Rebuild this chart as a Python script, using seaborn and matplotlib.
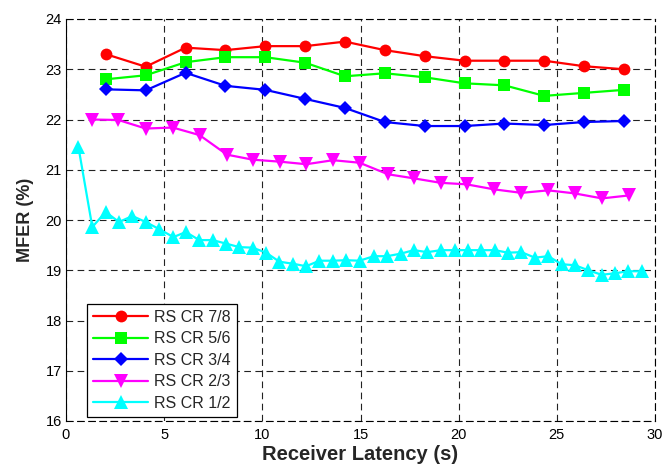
import matplotlib
matplotlib.use("Agg")
import matplotlib.pyplot as plt
import seaborn as sns
import pandas as pd

# ---- data ----
x_a = [2.03, 4.06, 6.09, 8.12, 10.15, 12.18, 14.21, 16.24, 18.27, 20.3, 22.33, 24.36, 26.39, 28.42]
cr78 = [23.30, 23.05, 23.43, 23.38, 23.46, 23.46, 23.55, 23.38, 23.26, 23.17, 23.17, 23.17, 23.06, 23.00]
cr56 = [22.80, 22.88, 23.14, 23.24, 23.24, 23.13, 22.86, 22.92, 22.84, 22.72, 22.68, 22.47, 22.53, 22.59]
cr34 = [22.60, 22.58, 22.93, 22.67, 22.59, 22.41, 22.23, 21.95, 21.87, 21.87, 21.92, 21.89, 21.95, 21.97]

x_b = [1.31, 2.67, 4.06, 5.44, 6.80, 8.20, 9.52, 10.92, 12.24, 13.60, 14.95, 16.40, 17.70, 19.08,
       20.40, 21.80, 23.20, 24.56, 25.90, 27.30, 28.70]
cr23 = [22.00, 21.99, 21.82, 21.84, 21.69, 21.30, 21.20, 21.16, 21.11, 21.19, 21.14, 20.91, 20.83, 20.74,
        20.71, 20.61, 20.54, 20.59, 20.53, 20.43, 20.49]

x_c = [0.63, 1.34, 2.02, 2.70, 3.38, 4.06, 4.74, 5.47, 6.10, 6.79, 7.47, 8.15, 8.83, 9.50, 10.19,
       10.87, 11.55, 12.23, 12.91, 13.59, 14.27, 14.95, 15.68, 16.36, 17.04, 17.72, 18.40, 19.10,
       19.80, 20.47, 21.15, 21.84, 22.50, 23.20, 23.88, 24.56, 25.24, 25.92, 26.60, 27.28, 27.96,
       28.64, 29.32]
cr12 = [21.46, 19.86, 20.16, 19.96, 20.08, 19.96, 19.82, 19.66, 19.76, 19.60, 19.60, 19.53, 19.46,
        19.45, 19.35, 19.17, 19.13, 19.08, 19.19, 19.19, 19.20, 19.19, 19.28, 19.28, 19.33, 19.40,
        19.36, 19.40, 19.40, 19.40, 19.40, 19.40, 19.35, 19.36, 19.25, 19.28, 19.12, 19.10, 19.00,
        18.91, 18.94, 18.98, 18.98]

labels = ["RS CR 7/8", "RS CR 5/6", "RS CR 3/4", "RS CR 2/3", "RS CR 1/2"]
xticks = [0, 5, 10, 15, 20, 25, 30]
yticks = [16, 17, 18, 19, 20, 21, 22, 23, 24]

series = [
    (x_a, cr78, labels[0], "#ff0000", "o", 8.5),
    (x_a, cr56, labels[1], "#00ff00", "s", 9),
    (x_a, cr34, labels[2], "#0000ff", "D", 7.5),
    (x_b, cr23, labels[3], "#ff00ff", "v", 10),
    (x_c, cr12, labels[4], "#00ffff", "^", 10),
]

sns.set_style("white")
plt.rcParams["font.family"] = ["Liberation Sans", "DejaVu Sans"]

fig = plt.figure(figsize=(6.65, 4.66), dpi=100)
ax = fig.add_axes([66 / 665, 1 - 421 / 466, 589 / 665, 402 / 466])

for xs, ys, lab, col, mk, ms in series:
    df = pd.DataFrame({"x": xs, "y": ys})
    sns.lineplot(data=df, x="x", y="y", ax=ax, color=col, marker=mk, markersize=ms,
                 markeredgecolor=col, markeredgewidth=0, linewidth=1.6, label=lab,
                 sort=False, estimator=None)

ax.set_xlim(0, 30)
ax.set_ylim(16, 24)
ax.set_xticks(xticks)
ax.set_yticks(yticks)
ax.tick_params(direction="in", length=4, labelsize=10.5, colors="black", width=0.8)
ax.tick_params(axis="x", pad=5)
ax.tick_params(axis="y", pad=3)
ax.grid(True, color="#222222", linestyle=(0, (6, 4)), linewidth=0.8)
ax.set_axisbelow(True)
for side in ["top", "right", "bottom"]:
    ax.spines[side].set_linestyle((0, (6, 4)))
for sp in ax.spines.values():
    sp.set_color("black")
    sp.set_linewidth(0.8)

ax.set_xlabel("Receiver Latency (s)", fontsize=14.5, fontweight="bold", labelpad=2)
ax.set_ylabel("MFER (%)", fontsize=13, fontweight="bold", labelpad=8)

leg = ax.legend(loc="lower left", bbox_to_anchor=(0.0357, 0.01), fontsize=11.5,
                frameon=True, fancybox=False, framealpha=1, edgecolor="black",
                handlelength=3.4, labelspacing=0.4, borderpad=0.4, handletextpad=0.4,
                borderaxespad=0)
leg.get_frame().set_linewidth(0.9)

fig.savefig("out.png", dpi=100)
